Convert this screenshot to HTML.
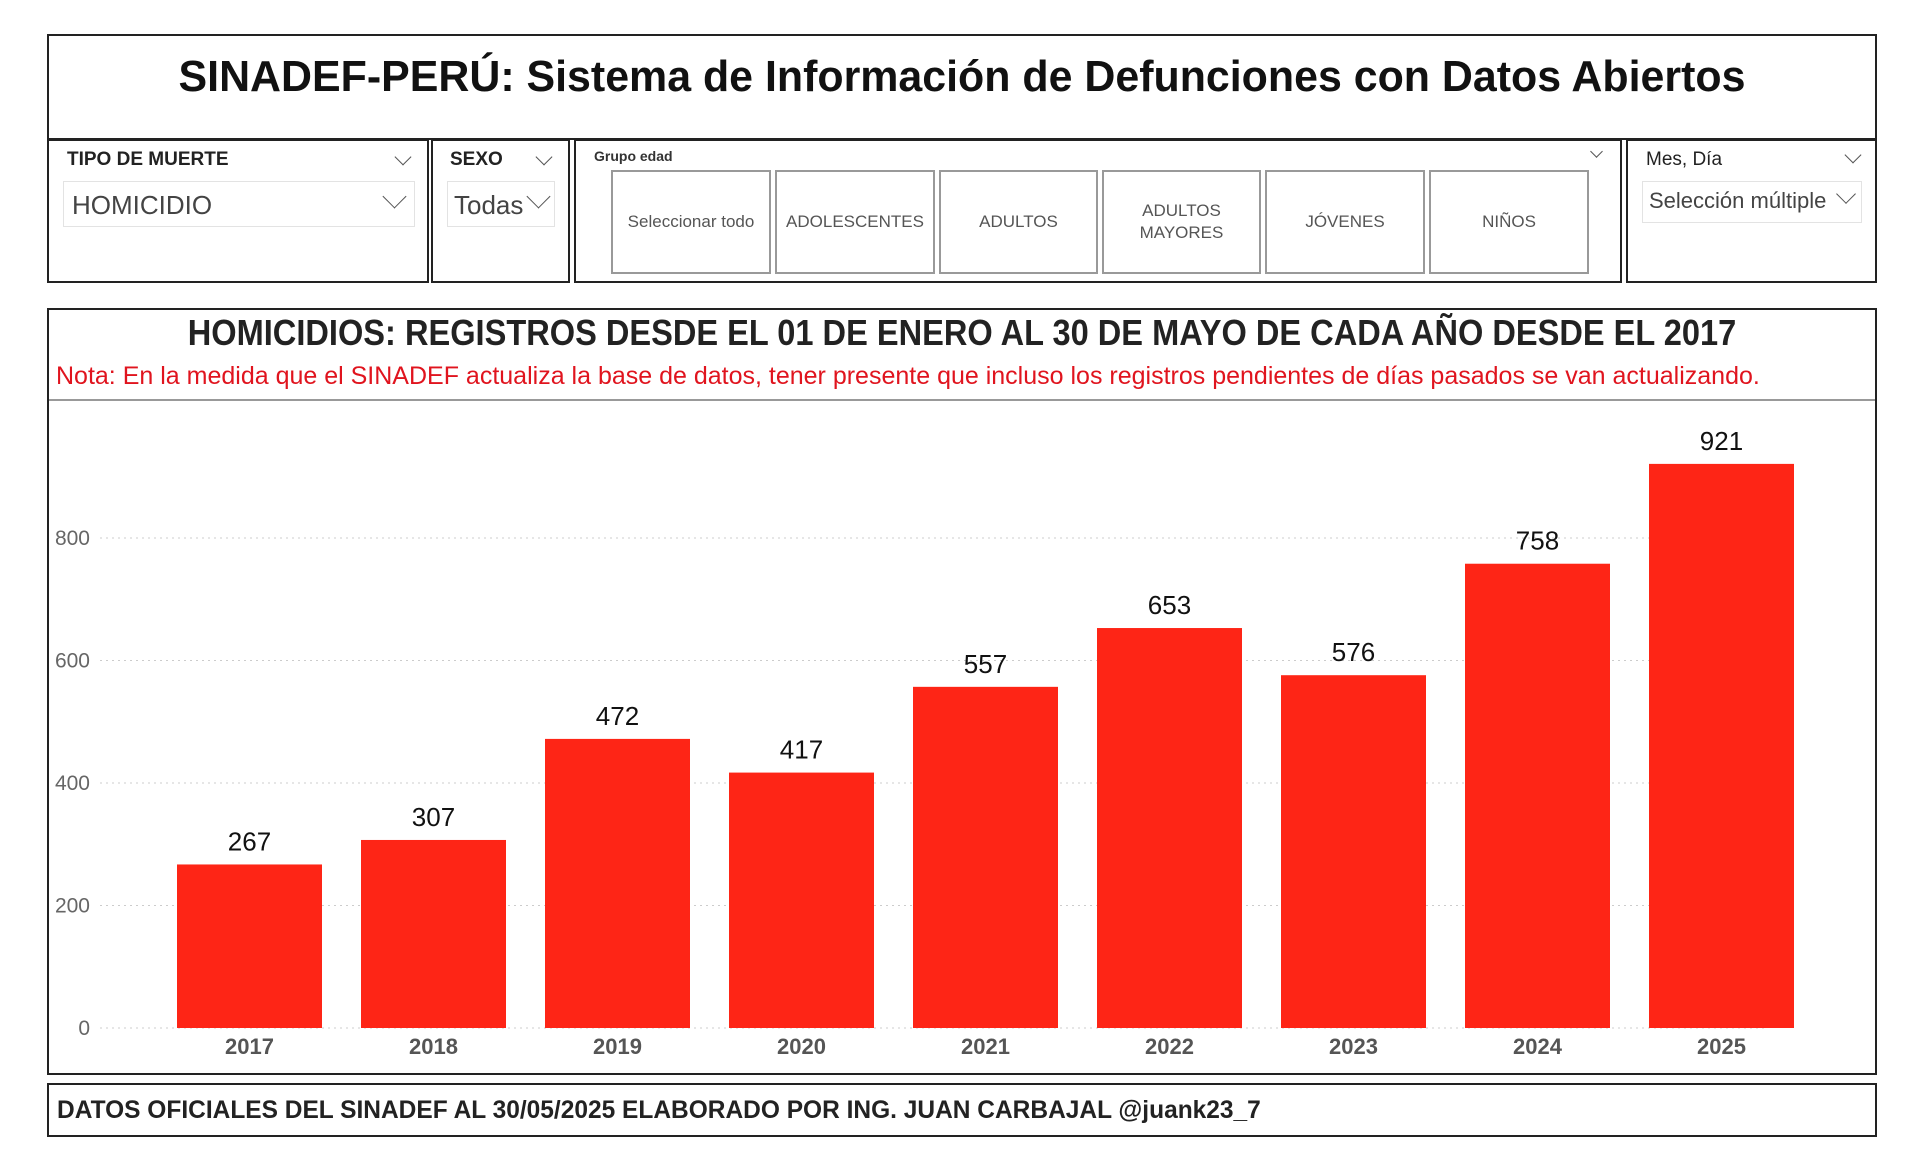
<!DOCTYPE html>
<html><head><meta charset="utf-8">
<style>
body{margin:0;width:1920px;height:1169px;background:#fff;position:relative;overflow:hidden;font-family:"Liberation Sans",sans-serif;}
.box{position:absolute;border:2px solid #222;box-sizing:border-box;background:#fff;}
.narrow{font-family:"Liberation Sans Narrow","Liberation Sans",sans-serif;}
.lbl{position:absolute;font-size:19px;font-weight:bold;color:#222;}
.chev{position:absolute;width:11px;height:11px;border-right:1.5px solid #555;border-bottom:1.5px solid #555;transform:rotate(45deg);}
.dd{position:absolute;border:1px solid #e3e3e3;color:#444;box-sizing:border-box;}
.btn{position:absolute;border:2px solid #999;box-sizing:border-box;display:flex;align-items:center;justify-content:center;text-align:center;font-size:17px;color:#555;line-height:22px;}
</style></head><body>
<div class="box" style="left:47px;top:34px;width:1830px;height:106px;">
 <div class="narrow" style="position:absolute;left:0;right:0;top:16px;text-align:center;font-size:44px;font-weight:bold;color:#111;transform:scaleX(0.975);">SINADEF-PERÚ: Sistema de Información de Defunciones con Datos Abiertos</div>
</div>
<div class="box" style="left:47px;top:139px;width:382px;height:144px;">
 <div class="lbl narrow" style="left:18px;top:8px;">TIPO DE MUERTE</div>
 <div class="chev" style="left:348px;top:10px;"></div>
 <div class="dd narrow" style="left:14px;top:40px;width:352px;height:46px;font-size:26px;padding:8px 0 0 8px;">HOMICIDIO<div class="chev" style="left:322px;top:6px;width:16px;height:16px;"></div></div>
</div>
<div class="box" style="left:431px;top:139px;width:139px;height:144px;">
 <div class="lbl narrow" style="left:17px;top:8px;">SEXO</div>
 <div class="chev" style="left:105px;top:10px;"></div>
 <div class="dd narrow" style="left:14px;top:40px;width:108px;height:46px;font-size:26px;padding:8px 0 0 6px;">Todas<div class="chev" style="left:82px;top:6px;width:16px;height:16px;"></div></div>
</div>
<div class="box" style="left:574px;top:139px;width:1048px;height:144px;">
 <div class="narrow" style="position:absolute;left:18px;top:7px;font-size:14px;font-weight:bold;color:#333;">Grupo edad</div>
 <div class="chev" style="left:1016px;top:6px;width:8px;height:8px;"></div>
</div>
<div class="btn narrow" style="left:611px;top:170px;width:160px;height:104px;">Seleccionar todo</div>
<div class="btn narrow" style="left:775px;top:170px;width:160px;height:104px;">ADOLESCENTES</div>
<div class="btn narrow" style="left:939px;top:170px;width:159px;height:104px;">ADULTOS</div>
<div class="btn narrow" style="left:1102px;top:170px;width:159px;height:104px;">ADULTOS<br>MAYORES</div>
<div class="btn narrow" style="left:1265px;top:170px;width:160px;height:104px;">JÓVENES</div>
<div class="btn narrow" style="left:1429px;top:170px;width:160px;height:104px;">NIÑOS</div>
<div class="box" style="left:1626px;top:139px;width:251px;height:144px;">
 <div class="narrow" style="position:absolute;left:18px;top:8px;font-size:19px;color:#222;">Mes, Día</div>
 <div class="chev" style="left:219px;top:8px;"></div>
 <div class="dd narrow" style="left:14px;top:40px;width:220px;height:42px;font-size:22px;padding:6px 0 0 6px;">Selección múltiple<div class="chev" style="left:196px;top:5px;width:13px;height:13px;"></div></div>
</div>
<div class="box" style="left:47px;top:308px;width:1830px;height:767px;">
 <div class="narrow" style="position:absolute;left:0;right:0;top:2px;text-align:center;font-size:36px;font-weight:bold;color:#222;transform:scaleX(0.905);">HOMICIDIOS: REGISTROS DESDE EL 01 DE ENERO AL 30 DE MAYO DE CADA AÑO DESDE EL 2017</div>
 <div class="narrow" style="position:absolute;left:7px;top:52px;font-size:25px;color:#e0141e;">Nota: En la medida que el SINADEF actualiza la base de datos, tener presente que incluso los registros pendientes de días pasados se van actualizando.</div>
 <div style="position:absolute;left:0;right:0;top:89px;height:2px;background:#999;"></div>
</div>
<svg id="chart" width="1920" height="1169" style="position:absolute;left:0;top:0;"></svg>
<div class="box" style="left:47px;top:1083px;width:1830px;height:54px;">
 <div class="narrow" style="position:absolute;left:8px;top:11px;font-size:25px;font-weight:bold;color:#222;transform:scaleX(0.98);transform-origin:left;">DATOS OFICIALES DEL SINADEF AL 30/05/2025 ELABORADO POR ING. JUAN CARBAJAL @juank23_7</div>
</div>
<script>
const categories=["2017","2018","2019","2020","2021","2022","2023","2024","2025"];
const values=[267,307,472,417,557,653,576,758,921];
const yTicks=[0,200,400,600,800];
const NS="http://www.w3.org/2000/svg";
const svg=document.getElementById('chart');
const y0=1028,pxPer=122.5/200;
function yScale(v){return y0-v*pxPer;}
function xScale(i){return 177+i*184.0;}
const bw=145;
function mk(tag,attrs,text){const e=document.createElementNS(NS,tag);for(const k in attrs)e.setAttribute(k,attrs[k]);if(text!==undefined)e.textContent=text;svg.appendChild(e);return e;}
yTicks.forEach(t=>{
 const g=mk('line',{x1:100,x2:1765,y1:yScale(t),y2:yScale(t),stroke:'#ccc','stroke-dasharray':'2,4','stroke-width':1});
 
 
 const l=mk('text',{x:90,y:yScale(t)+7,'text-anchor':'end','font-size':21,fill:'#666','font-family':'"Liberation Sans Narrow","Liberation Sans",sans-serif'},String(t));
 
 
});
categories.forEach((c,i)=>{
 const v=values[i];
 const r=mk('rect',{x:xScale(i),y:yScale(v),width:bw,height:y0-yScale(v),fill:'#fe2516'});
 
 
 const vl=mk('text',{x:xScale(i)+bw/2,y:yScale(v)-14,'text-anchor':'middle','font-size':26,fill:'#111','font-family':'"Liberation Sans Narrow","Liberation Sans",sans-serif'},String(v));
 
 
 const xl=mk('text',{x:xScale(i)+bw/2,y:1054,'text-anchor':'middle','font-size':22,'font-weight':'bold',fill:'#555','font-family':'"Liberation Sans Narrow","Liberation Sans",sans-serif'},c);
 
 
});
</script>
</body></html>
